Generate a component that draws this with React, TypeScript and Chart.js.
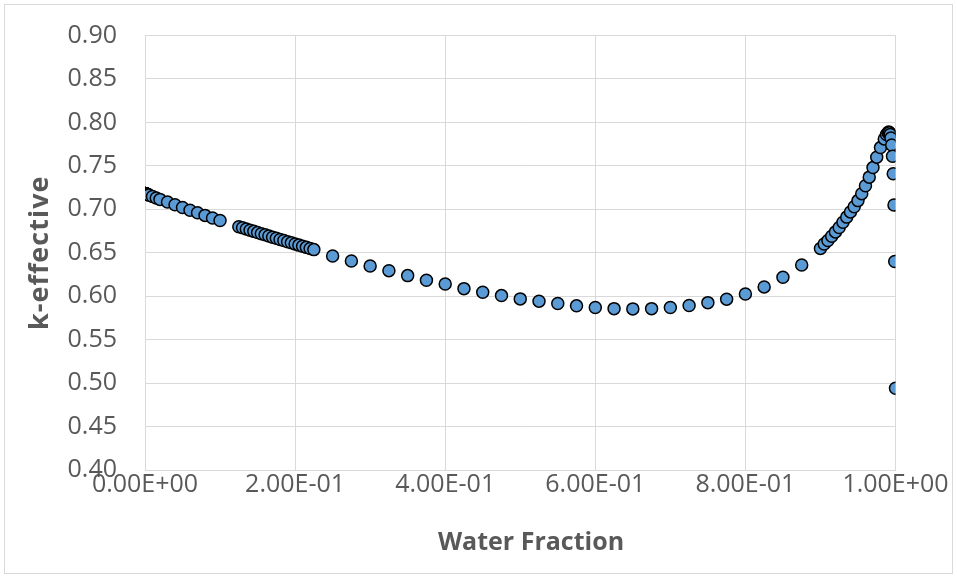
import React, { useEffect, useRef } from "react";
import { Chart, registerables } from "chart.js";

Chart.register(...registerables);

const waterFraction: number[] = [
  0, 0.00001, 0.00005, 0.0001, 0.0002, 0.0003, 0.0005, 0.0007, 0.001, 0.0015, 0.002, 0.0025, 0.003, 0.004,
  0.005, 0.01, 0.015, 0.02, 0.03, 0.04, 0.05, 0.06, 0.07, 0.08, 0.09, 0.1,
  0.125, 0.13, 0.135, 0.14, 0.145, 0.15, 0.155, 0.16, 0.165, 0.17, 0.175, 0.18, 0.185, 0.19, 0.195, 0.2, 0.205, 0.21, 0.215, 0.22, 0.225,
  0.25, 0.275, 0.3, 0.325, 0.35, 0.375, 0.4, 0.425, 0.45, 0.475, 0.5, 0.525, 0.55, 0.575, 0.6, 0.625, 0.65, 0.675, 0.7, 0.725, 0.75, 0.775, 0.8, 0.825, 0.85, 0.875,
  0.9, 0.905, 0.91, 0.915, 0.92, 0.925, 0.93, 0.935, 0.94, 0.945, 0.95, 0.955, 0.96, 0.965, 0.97, 0.975, 0.98, 0.985, 0.988, 0.99,
  0.991, 0.992, 0.993, 0.994, 0.995, 0.996, 0.997, 0.998, 0.999, 1.0,
];

const kEffective: number[] = [
  0.7182, 0.7182, 0.7182, 0.7181, 0.7181, 0.718, 0.718, 0.7179, 0.7178, 0.7177, 0.7175, 0.7174, 0.7172, 0.7169,
  0.7164, 0.7147, 0.713, 0.7114, 0.7083, 0.7052, 0.7021, 0.699, 0.696, 0.693, 0.69, 0.6872,
  0.68, 0.6787, 0.6773, 0.6759, 0.6746, 0.6732, 0.6719, 0.6706, 0.6692, 0.6679, 0.6666, 0.6653, 0.664, 0.6627, 0.6614, 0.6601, 0.6588, 0.6575, 0.6562, 0.6549, 0.6536,
  0.6463, 0.6406, 0.6348, 0.6294, 0.6237, 0.6184, 0.6141, 0.6087, 0.6046, 0.6007, 0.5969, 0.5943, 0.5915, 0.5889, 0.5869, 0.5857, 0.5854, 0.5857, 0.5869, 0.5892, 0.5926, 0.5966, 0.6026, 0.6107, 0.6218, 0.636,
  0.655, 0.66, 0.664, 0.669, 0.674, 0.679, 0.685, 0.691, 0.697, 0.703, 0.71, 0.718, 0.727, 0.737, 0.748, 0.76, 0.771, 0.781, 0.786, 0.788,
  0.789, 0.788, 0.786, 0.782, 0.774, 0.761, 0.741, 0.705, 0.64, 0.494,
];

const yTicks: number[] = [0.4, 0.45, 0.5, 0.55, 0.6, 0.65, 0.7, 0.75, 0.8, 0.85, 0.9];
const xTicks: number[] = [0, 0.2, 0.4, 0.6, 0.8, 1.0];

const xTitle = "Water Fraction";
const yTitle = "k-effective";

function sci(v: number): string {
  if (v === 0) return "0.00E+00";
  const e = Math.floor(Math.log10(Math.abs(v)) + 1e-9);
  const m = v / Math.pow(10, e);
  const sign = e < 0 ? "-" : "+";
  const ae = Math.abs(e);
  return m.toFixed(2) + "E" + sign + (ae < 10 ? "0" + ae : String(ae));
}

const FONT = "'Open Sans', 'DejaVu Sans', sans-serif";

export default function App() {
  const ref = useRef<HTMLCanvasElement | null>(null);

  useEffect(() => {
    if (!ref.current) return;
    const frame = {
      id: "frame",
      beforeDraw(chart: any) {
        const ctx = chart.ctx;
        ctx.save();
        ctx.fillStyle = "#ffffff";
        ctx.fillRect(0, 0, chart.width, chart.height);
        ctx.restore();
      },
      afterDraw(chart: any) {
        const ctx = chart.ctx;
        const area = chart.chartArea;
        ctx.save();
        ctx.strokeStyle = "#d9d9d9";
        ctx.lineWidth = 1;
        ctx.strokeRect(4.5, 4.5, 948, 569);
        ctx.fillStyle = "#595959";
        ctx.font = "bold 25px " + FONT;
        ctx.textAlign = "center";
        ctx.textBaseline = "middle";
        ctx.fillText(xTitle, 531, 543);
        ctx.translate(40, (area.top + area.bottom) / 2);
        ctx.rotate(-Math.PI / 2);
        ctx.font = "bold 27px " + FONT;
        (ctx as any).letterSpacing = "1px";
        ctx.fillText(yTitle, 0, 0);
        ctx.restore();
      },
    };
    const chart = new Chart(ref.current, {
      type: "scatter",
      data: {
        datasets: [
          {
            data: waterFraction.map((x, i) => ({ x, y: kEffective[i] })),
            backgroundColor: "#5B9BD5",
            borderColor: "#000000",
            borderWidth: 1.5,
            pointRadius: 6,
            pointHoverRadius: 6,
          },
        ],
      },
      options: {
        animation: false,
        responsive: false,
        devicePixelRatio: 1,
        layout: { padding: { left: 0, right: 61.5, top: 35.5, bottom: 0 } },
        plugins: { legend: { display: false }, tooltip: { enabled: false } },
        scales: {
          x: {
            type: "linear",
            min: 0,
            max: 1,
            afterBuildTicks(scale: any) {
              scale.ticks = xTicks.map((v) => ({ value: v }));
            },
            afterFit(scale: any) {
              scale.height = 108;
              scale.paddingLeft = 0;
              scale.paddingRight = 0;
            },
            grid: { color: "#d9d9d9", lineWidth: 1, drawTicks: false },
            border: { display: true, color: "#d9d9d9" },
            ticks: {
              padding: 0,
              color: "#595959",
              font: { family: FONT, size: 25 },
              maxRotation: 0,
              callback: (v: any) => sci(Number(v)),
            },
            title: { display: false },
          },
          y: {
            type: "linear",
            min: 0.4,
            max: 0.9,
            afterBuildTicks(scale: any) {
              scale.ticks = yTicks.map((v) => ({ value: v }));
            },
            afterFit(scale: any) {
              scale.width = 145;
              scale.paddingTop = 0;
              scale.paddingBottom = 0;
            },
            grid: { color: "#d9d9d9", lineWidth: 1, drawTicks: false },
            border: { display: true, color: "#d9d9d9" },
            ticks: {
              padding: 28,
              color: "#595959",
              font: { family: FONT, size: 25 },
              callback: (v: any) => Number(v).toFixed(2),
            },
            title: { display: false },
          },
        },
      },
      plugins: [frame],
    });
    return () => chart.destroy();
  }, []);

  return (
    <div style={{ position: "fixed", left: 0, top: 0, width: 957, height: 578 }}>
      <canvas ref={ref} width={957} height={578} style={{ width: 957, height: 578, display: "block" }} />
    </div>
  );
}
